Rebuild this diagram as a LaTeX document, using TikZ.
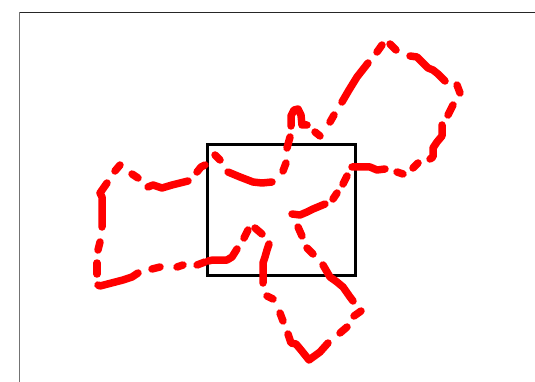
\documentclass[tikz,border=0pt]{standalone}
\begin{document}
\begin{tikzpicture}[x=1pt,y=-1pt,
  trace/.style={draw={rgb,255:red,255;green,0;blue,0},line width=7.5pt,line cap=round,line join=round},
  zoombox/.style={draw=black,line width=3.2pt},
  axisline/.style={line width=1pt}]
\useasboundingbox (0,0) rectangle (535,382);
% axes frame
\coordinate (tl) at (19.5,12.5);
\coordinate (tr) at (535,12.5);
\coordinate (bl) at (19.5,382);
\draw[axisline,draw=black!85] (tl) -- (tr);
\draw[axisline,draw=black!55] (tl) -- (bl);
% zoom box
\coordinate (b1) at (207.5,144.5);
\coordinate (b2) at (355.5,275.5);
\draw[zoombox] (b1) rectangle (b2);
% red dashed loop
\path[trace] (215,155)--(220,160);
\path[trace] (228,172)--(240,177)--(253,182)--(262,183)--(272,182);
\path[trace] (286,163)--(283,171);
\path[trace] (287,148)--(290,137);
\path[trace] (291,126)--(291,116)--(294,110)--(298,109)--(301,115)--(302,125)--(307,125);
\path[trace] (315,132)--(320,136);
\path[trace] (330,122)--(334,115);
\path[trace] (342,102)--(349,90)--(357,77)--(368,63);
\path[trace] (377,52)--(382,45);
\path[trace] (390,44)--(396,50);
\path[trace] (410,56)--(417,57)--(423,63)--(428,68)--(433,70)--(438,74)--(445,81);
\path[trace] (457,85)--(460,93);
\path[trace] (453,105)--(448,115);
\path[trace] (442,125)--(442,136)--(437,142)--(433,148)--(433,157)--(430,159);
\path[trace] (418,163)--(413,168);
\path[trace] (403,174)--(397,172);
\path[trace] (385,169)--(377,170)--(370,167)--(363,167)--(357,167)--(352,167);
\path[trace] (347,176)--(343,184);
\path[trace] (337,193)--(333,199);
\path[trace] (325,204)--(313,209)--(307,212)--(300,215)--(292,214);
\path[trace] (298,227)--(302,236);
\path[trace] (307,248)--(313,254);
\path[trace] (323,265)--(330,277)--(337,282)--(343,287)--(350,297)--(353,301);
\path[trace] (361,311)--(354,316);
\path[trace] (347,327)--(340,333);
\path[trace] (328,343)--(320,352)--(309,360)--(301,350)--(296,344)--(291,343)--(288,334);
\path[trace] (283,321)--(280,313);
\path[trace] (273,299)--(267,296);
\path[trace] (263,283)--(263,273)--(263,263)--(265,257)--(267,250)--(269,244);
\path[trace] (262,234)--(255,228);
\path[trace] (248,230)--(244,238);
\path[trace] (237,249)--(232,257)--(227,260)--(213,260)--(208,261);
\path[trace] (205,262)--(197,265);
\path[trace] (183,265)--(177,267);
\path[trace] (160,267)--(152,269);
\path[trace] (138,273)--(132,277)--(123,280)--(100,286)--(98,285);
\path[trace] (97,274)--(97,263);
\path[trace] (98,250)--(100,242);
\path[trace] (102,227)--(102,197)--(100,193)--(107,183);
\path[trace] (115,171)--(120,165);
\path[trace] (132,174)--(138,178);
\path[trace] (148,187)--(153,185)--(162,188)--(172,185)--(188,181);
\path[trace] (197,172)--(201,167)--(205,165);
\end{tikzpicture}
\end{document}
